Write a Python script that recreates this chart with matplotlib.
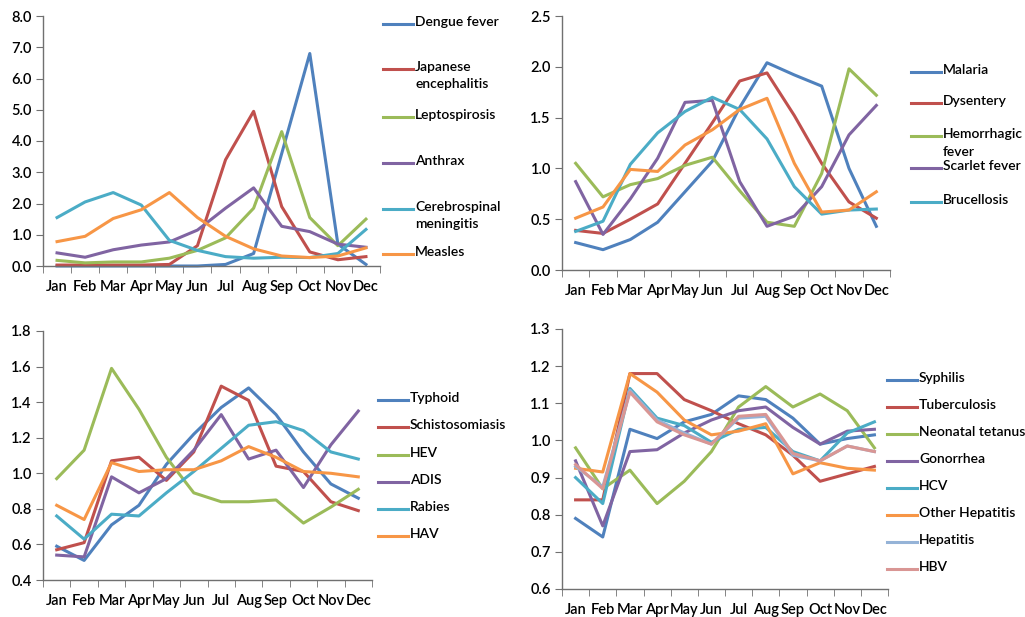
import matplotlib
matplotlib.use("Agg")
import matplotlib.pyplot as plt
from matplotlib.lines import Line2D

plt.rcParams['font.family'] = ['Lato', 'DejaVu Sans']
plt.rcParams['font.weight'] = 'semibold'

months = ['Jan', 'Feb', 'Mar', 'Apr', 'May', 'Jun', 'Jul', 'Aug', 'Sep', 'Oct', 'Nov', 'Dec']

# Excel 2007 default palette
blue = '#4F81BD'
red = '#C0504D'
green = '#9BBB59'
purple = '#8064A2'
aqua = '#4BACC6'
orange = '#F79646'
lightblue = '#95B3D7'
pink = '#D99694'

# panel 1
p1_names = ['Dengue fever', 'Japanese\nencephalitis', 'Leptospirosis', 'Anthrax',
            'Cerebrospinal\nmeningitis', 'Measles']
dengue = [0.0, 0.0, 0.0, 0.0, 0.0, 0.0, 0.05, 0.4, 3.6, 6.8, 0.7, 0.05]
japanese = [0.03, 0.03, 0.03, 0.03, 0.05, 0.65, 3.4, 4.95, 1.9, 0.45, 0.2, 0.3]
lepto = [0.18, 0.1, 0.13, 0.13, 0.25, 0.5, 0.9, 1.85, 4.3, 1.55, 0.65, 1.5]
anthrax = [0.42, 0.28, 0.52, 0.67, 0.77, 1.15, 1.85, 2.5, 1.27, 1.1, 0.7, 0.6]
cerebro = [1.55, 2.05, 2.35, 1.95, 0.82, 0.5, 0.3, 0.25, 0.28, 0.27, 0.4, 1.17]
measles = [0.78, 0.95, 1.52, 1.8, 2.35, 1.55, 0.95, 0.55, 0.32, 0.27, 0.32, 0.58]

# panel 2
p2_names = ['Malaria', 'Dysentery', 'Hemorrhagic\nfever', 'Scarlet fever', 'Brucellosis', None]
malaria = [0.27, 0.2, 0.3, 0.47, 0.77, 1.07, 1.6, 2.04, 1.92, 1.81, 1.0, 0.43]
dysentery = [0.39, 0.36, 0.5, 0.65, 1.05, 1.45, 1.86, 1.94, 1.52, 1.05, 0.67, 0.51]
hemorrhagic = [1.05, 0.72, 0.84, 0.9, 1.03, 1.11, 0.78, 0.47, 0.43, 0.95, 1.98, 1.72]
scarlet = [0.87, 0.35, 0.7, 1.1, 1.65, 1.67, 0.87, 0.43, 0.53, 0.82, 1.33, 1.62]
brucellosis = [0.38, 0.48, 1.04, 1.35, 1.56, 1.7, 1.58, 1.29, 0.82, 0.55, 0.59, 0.6]
p2_orange = [0.51, 0.62, 0.99, 0.97, 1.23, 1.38, 1.58, 1.69, 1.05, 0.57, 0.59, 0.77]

# panel 3
p3_names = ['Typhoid', 'Schistosomiasis', 'HEV', 'ADIS', 'Rabies', 'HAV']
typhoid = [0.59, 0.51, 0.71, 0.82, 1.05, 1.22, 1.37, 1.48, 1.33, 1.12, 0.94, 0.86]
schisto = [0.57, 0.61, 1.07, 1.09, 0.96, 1.12, 1.49, 1.41, 1.04, 1.01, 0.84, 0.79]
hev = [0.97, 1.13, 1.59, 1.36, 1.09, 0.89, 0.84, 0.84, 0.85, 0.72, 0.81, 0.91]
adis = [0.54, 0.53, 0.98, 0.89, 0.97, 1.13, 1.33, 1.08, 1.13, 0.92, 1.16, 1.35]
rabies = [0.76, 0.63, 0.77, 0.76, 0.89, 1.01, 1.14, 1.27, 1.29, 1.24, 1.12, 1.08]
hav = [0.82, 0.74, 1.06, 1.01, 1.02, 1.02, 1.07, 1.15, 1.09, 1.01, 1.0, 0.98]

# panel 4
p4_names = ['Syphilis', 'Tuberculosis', 'Neonatal tetanus', 'Gonorrhea', 'HCV',
            'Other Hepatitis', 'Hepatitis', 'HBV']
syphilis = [0.79, 0.74, 1.03, 1.005, 1.05, 1.07, 1.12, 1.11, 1.06, 0.99, 1.005, 1.015]
tuberculosis = [0.84, 0.84, 1.18, 1.18, 1.11, 1.08, 1.045, 1.015, 0.96, 0.89, 0.91, 0.93]
tetanus = [0.98, 0.87, 0.92, 0.83, 0.89, 0.97, 1.09, 1.145, 1.09, 1.125, 1.08, 0.98]
gonorrhea = [0.945, 0.77, 0.97, 0.975, 1.02, 1.055, 1.08, 1.09, 1.035, 0.99, 1.025, 1.03]
hcv = [0.9, 0.83, 1.14, 1.06, 1.04, 0.995, 1.03, 1.035, 0.97, 0.945, 1.02, 1.05]
other_hep = [0.925, 0.915, 1.18, 1.13, 1.055, 1.015, 1.025, 1.045, 0.91, 0.94, 0.925, 0.92]
hepatitis = [0.93, 0.875, 1.135, 1.055, 1.02, 0.99, 1.06, 1.065, 0.96, 0.945, 0.985, 0.97]
hbv = [0.935, 0.87, 1.13, 1.05, 1.015, 0.99, 1.065, 1.07, 0.965, 0.945, 0.985, 0.97]

W, H = 1025, 617
fig = plt.figure(figsize=(W / 100, H / 100), dpi=100)
axis_col = '#707070'
lw = 2.2
tick_fs = 10.5
leg_fs = 10


def px_axes(left, top, right, bottom):
    return fig.add_axes([left / W, 1 - bottom / H, (right - left) / W, (bottom - top) / H])


def style(ax, ymin, ymax, step):
    ax.set_xlim(-0.5, 11.5)
    ax.set_ylim(ymin, ymax)
    n = int(round((ymax - ymin) / step))
    ax.set_yticks([ymin + i * step for i in range(n + 1)])
    ax.yaxis.set_major_formatter(matplotlib.ticker.FormatStrFormatter('%.1f'))
    ax.set_xticks(range(12))
    ax.set_xticklabels(months)
    ax.set_xticks([i - 0.5 for i in range(13)], minor=True)
    ax.tick_params(axis='x', which='major', length=0, pad=10, labelsize=tick_fs)
    ax.tick_params(axis='x', which='minor', length=5, color=axis_col, direction='out')
    ax.tick_params(axis='y', length=5, color=axis_col, direction='out', labelsize=tick_fs, pad=3)
    for s in ['top', 'right']:
        ax.spines[s].set_visible(False)
    for s in ['left', 'bottom']:
        ax.spines[s].set_color(axis_col)
        ax.spines[s].set_linewidth(1.0)
    ax.patch.set_alpha(0)


def legend(names, colors, x0, ys):
    for name, c, y in zip(names, colors, ys):
        if name is None:
            continue
        fig.add_artist(Line2D([x0 / W, (x0 + 30) / W], [1 - y / H, 1 - y / H],
                              color=c, lw=lw, transform=fig.transFigure))
        fig.text((x0 + 32) / W, 1 - (y - 8) / H, name, fontsize=leg_fs, va='top', ha='left',
                 linespacing=1.55)


# top left
ax1 = px_axes(43, 16, 380, 266)
s1 = [dengue, japanese, lepto, anthrax, cerebro, measles]
c1 = [blue, red, green, purple, aqua, orange]
for vals, c in zip(s1, c1):
    ax1.plot(range(12), vals, color=c, lw=lw, clip_on=False)
style(ax1, 0, 8, 1)
legend(p1_names, c1, 383, [24, 69, 117, 163, 209, 254])

# top right
ax2 = px_axes(562, 16, 890, 270)
s2 = [malaria, dysentery, hemorrhagic, scarlet, brucellosis, p2_orange]
c2 = [blue, red, green, purple, aqua, orange]
for vals, c in zip(s2, c2):
    ax2.plot(range(12), vals, color=c, lw=lw, clip_on=False)
style(ax2, 0, 2.5, 0.5)
legend(p2_names, c2, 911, [72, 103, 136, 168, 202, 0])

# bottom left
ax3 = px_axes(43, 331, 372, 580)
s3 = [typhoid, schisto, hev, adis, rabies, hav]
c3 = [blue, red, green, purple, aqua, orange]
for vals, c in zip(s3, c3):
    ax3.plot(range(12), vals, color=c, lw=lw, clip_on=False)
style(ax3, 0.4, 1.8, 0.2)
legend(p3_names, c3, 378, [400, 427, 455, 482, 509, 536])

# bottom right
ax4 = px_axes(562, 329, 888, 589)
s4 = [syphilis, tuberculosis, tetanus, gonorrhea, hcv, other_hep, hepatitis, hbv]
c4 = [blue, red, green, purple, aqua, orange, lightblue, pink]
for vals, c in zip(s4, c4):
    ax4.plot(range(12), vals, color=c, lw=lw, clip_on=False)
style(ax4, 0.6, 1.3, 0.1)
legend(p4_names, c4, 887, [380, 407, 434, 461, 488, 515, 542, 569])

fig.savefig('out.png', dpi=100, facecolor='white')
